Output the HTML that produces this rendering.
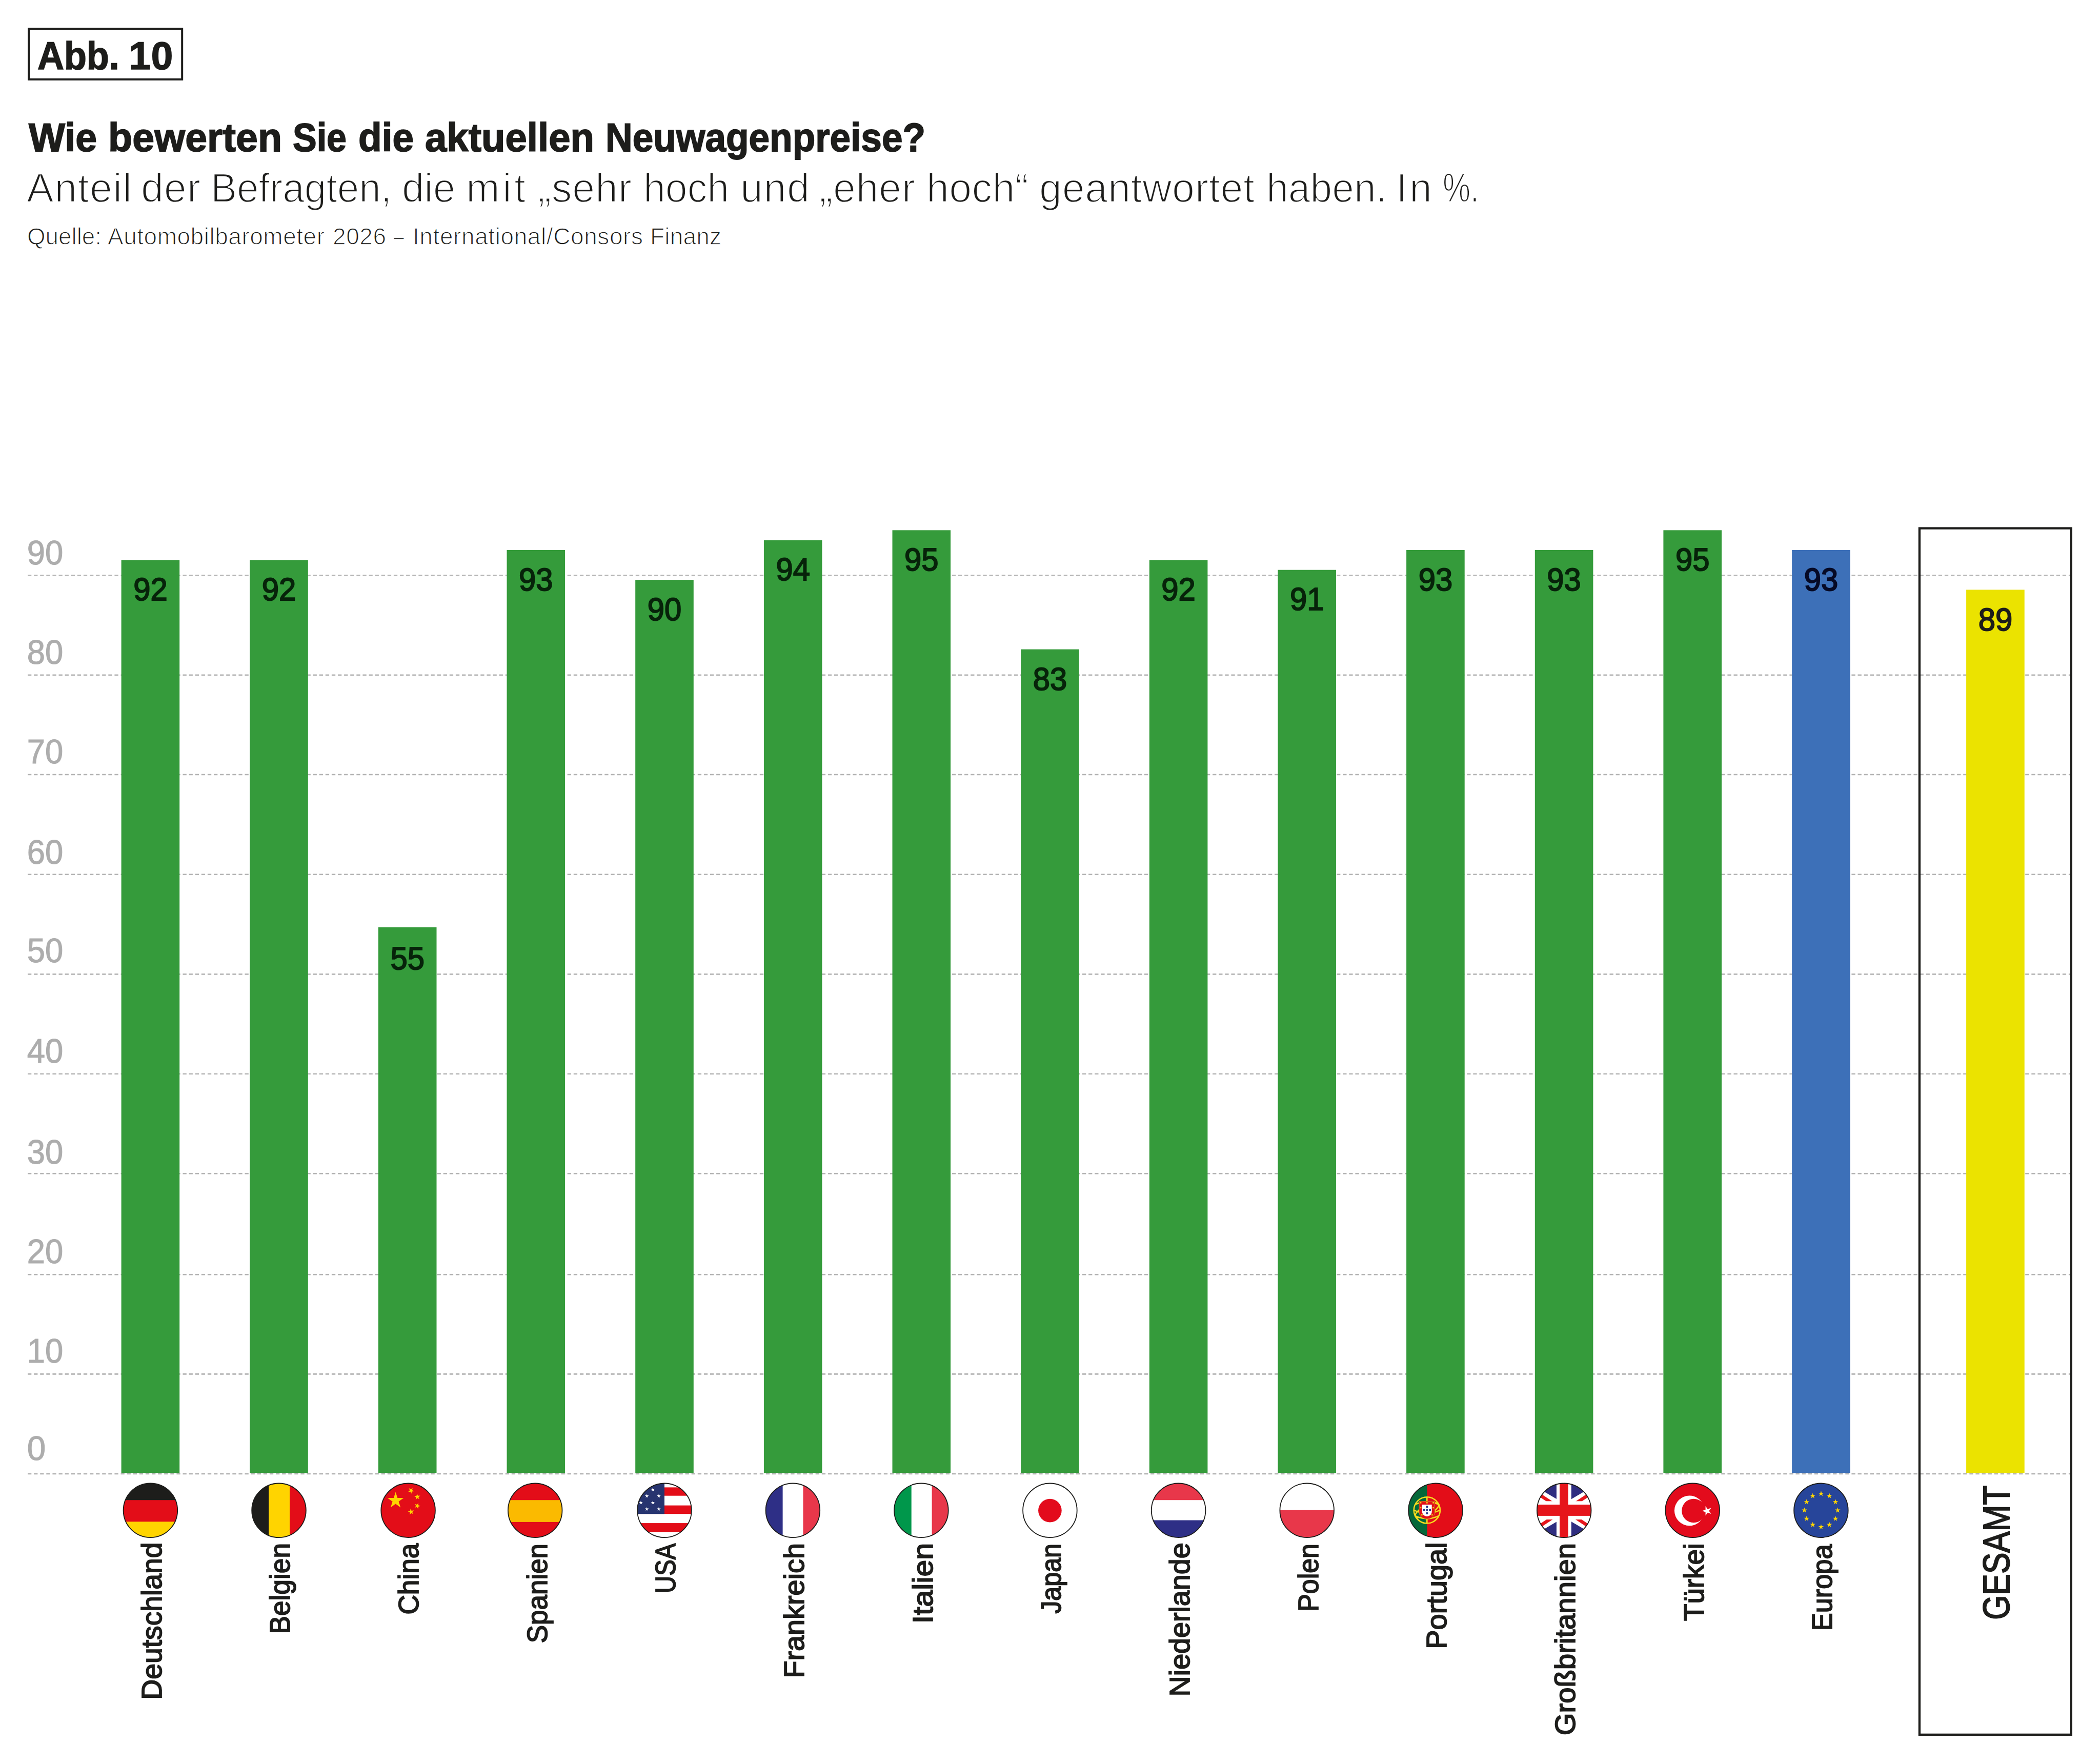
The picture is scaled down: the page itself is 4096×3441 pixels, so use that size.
<!DOCTYPE html>
<html lang="de"><head><meta charset="utf-8"><title>Abb. 10 – Neuwagenpreise</title>
<style>html,body{margin:0;padding:0;background:#fff}svg{display:block}text{font-family:"Liberation Sans",sans-serif}</style>
</head><body>
<svg width="4096" height="3441" viewBox="0 0 4096 3441" role="img" aria-label="Balkendiagramm: Bewertung der aktuellen Neuwagenpreise nach Land">
<defs><clipPath id="fc"><circle cx="0" cy="0" r="52.8"/></clipPath></defs>
<rect width="4096" height="3441" fill="#fff"/>
<g fill="#1d1d1b">
<rect x="56.1" y="56.1" width="299.1" height="98.8" fill="none" stroke="#1d1d1b" stroke-width="4"/>
<text y="135.0" font-size="76.5" font-weight="bold" stroke="#1d1d1b" stroke-width="1.6"><tspan x="73.1" textLength="159.6" lengthAdjust="spacingAndGlyphs">Abb.</tspan> <tspan x="251.4" textLength="86.0" lengthAdjust="spacing">10</tspan></text>
<text y="295" font-size="77" font-weight="bold" stroke="#1d1d1b" stroke-width="1.8"><tspan x="56.0" textLength="133.0" lengthAdjust="spacingAndGlyphs">Wie</tspan> <tspan x="211.0" textLength="339.0" lengthAdjust="spacing">bewerten</tspan> <tspan x="571.0" textLength="105.0" lengthAdjust="spacingAndGlyphs">Sie</tspan> <tspan x="699.0" textLength="108.0" lengthAdjust="spacingAndGlyphs">die</tspan> <tspan x="829.0" textLength="330.0" lengthAdjust="spacingAndGlyphs">aktuellen</tspan> <tspan x="1181.0" textLength="624.0" lengthAdjust="spacingAndGlyphs">Neuwagenpreise?</tspan></text>
<text y="393.6" font-size="79" stroke="#fff" stroke-width="2.3"><tspan x="52.0" textLength="205.0" lengthAdjust="spacing">Anteil</tspan> <tspan x="275.0" textLength="116.0" lengthAdjust="spacing">der</tspan> <tspan x="411.0" textLength="353.0" lengthAdjust="spacingAndGlyphs">Befragten,</tspan> <tspan x="784.0" textLength="104.0" lengthAdjust="spacingAndGlyphs">die</tspan> <tspan x="909.0" textLength="116.0" lengthAdjust="spacing">mit</tspan> <tspan x="1049.0" textLength="183.0" lengthAdjust="spacing">„sehr</tspan> <tspan x="1255.0" textLength="167.0" lengthAdjust="spacingAndGlyphs">hoch</tspan> <tspan x="1444.0" textLength="135.0" lengthAdjust="spacing">und</tspan> <tspan x="1598.0" textLength="187.0" lengthAdjust="spacing">„eher</tspan> <tspan x="1807.0" textLength="199.0" lengthAdjust="spacing">hoch“</tspan> <tspan x="2027.0" textLength="420.0" lengthAdjust="spacing">geantwortet</tspan> <tspan x="2470.0" textLength="235.0" lengthAdjust="spacingAndGlyphs">haben.</tspan> <tspan x="2723.0" textLength="70.0" lengthAdjust="spacing">In</tspan> <tspan x="2814.0" textLength="71.0" lengthAdjust="spacingAndGlyphs">%.</tspan></text>
<text y="477.2" font-size="46" stroke="#fff" stroke-width="1.3"><tspan x="53.0" textLength="145.0" lengthAdjust="spacingAndGlyphs">Quelle:</tspan> <tspan x="210.0" textLength="423.0" lengthAdjust="spacing">Automobilbarometer</tspan> <tspan x="649.0" textLength="104.0" lengthAdjust="spacing">2026</tspan> <tspan x="768.0" textLength="20.0" lengthAdjust="spacingAndGlyphs">–</tspan> <tspan x="805.0" textLength="449.0" lengthAdjust="spacing">International/Consors</tspan> <tspan x="1268.0" textLength="139.0" lengthAdjust="spacing">Finanz</tspan></text>
</g>
<g stroke="#b3b3b3" stroke-width="2.6" stroke-dasharray="7.3 4.8" fill="none">
<line x1="54" y1="2874.9" x2="4038" y2="2874.9"/>
<line x1="54" y1="2680.4" x2="4038" y2="2680.4"/>
<line x1="54" y1="2486.2" x2="4038" y2="2486.2"/>
<line x1="54" y1="2289.2" x2="4038" y2="2289.2"/>
<line x1="54" y1="2094.7" x2="4038" y2="2094.7"/>
<line x1="54" y1="1900.4" x2="4038" y2="1900.4"/>
<line x1="54" y1="1705.8" x2="4038" y2="1705.8"/>
<line x1="54" y1="1511.0" x2="4038" y2="1511.0"/>
<line x1="54" y1="1316.8" x2="4038" y2="1316.8"/>
<line x1="54" y1="1122.3" x2="4038" y2="1122.3"/>
</g>
<g fill="#adadad" stroke="#adadad" stroke-width="1.1" font-size="66.6">
<text x="52.8" y="2848.4" textLength="36.5" lengthAdjust="spacingAndGlyphs">0</text>
<text x="52.8" y="2657.5" textLength="70.5" lengthAdjust="spacingAndGlyphs">10</text>
<text x="52.8" y="2464.3" textLength="70.5" lengthAdjust="spacingAndGlyphs">20</text>
<text x="52.8" y="2269.7" textLength="70.5" lengthAdjust="spacingAndGlyphs">30</text>
<text x="52.8" y="2072.8" textLength="70.5" lengthAdjust="spacingAndGlyphs">40</text>
<text x="52.8" y="1876.7" textLength="70.5" lengthAdjust="spacingAndGlyphs">50</text>
<text x="52.8" y="1684.5" textLength="70.5" lengthAdjust="spacingAndGlyphs">60</text>
<text x="52.8" y="1489.2" textLength="70.5" lengthAdjust="spacingAndGlyphs">70</text>
<text x="52.8" y="1295.2" textLength="70.5" lengthAdjust="spacingAndGlyphs">80</text>
<text x="52.8" y="1100.7" textLength="70.5" lengthAdjust="spacingAndGlyphs">90</text>
</g>
<rect x="236.6" y="1092.4" width="113.6" height="1781.0" fill="#359b3b"/>
<text x="293.4" y="1171.0" font-size="63" text-anchor="middle" fill="#07230a" stroke="#07230a" stroke-width="2" textLength="66.5" lengthAdjust="spacingAndGlyphs">92</text>
<rect x="487.2" y="1092.4" width="113.6" height="1781.0" fill="#359b3b"/>
<text x="544.0" y="1171.0" font-size="63" text-anchor="middle" fill="#07230a" stroke="#07230a" stroke-width="2" textLength="66.5" lengthAdjust="spacingAndGlyphs">92</text>
<rect x="737.9" y="1808.7" width="113.6" height="1064.7" fill="#359b3b"/>
<text x="794.7" y="1891.0" font-size="63" text-anchor="middle" fill="#07230a" stroke="#07230a" stroke-width="2" textLength="66.5" lengthAdjust="spacingAndGlyphs">55</text>
<rect x="988.5" y="1073.0" width="113.6" height="1800.4" fill="#359b3b"/>
<text x="1045.3" y="1151.5" font-size="63" text-anchor="middle" fill="#07230a" stroke="#07230a" stroke-width="2" textLength="66.5" lengthAdjust="spacingAndGlyphs">93</text>
<rect x="1239.2" y="1131.1" width="113.6" height="1742.3" fill="#359b3b"/>
<text x="1296.0" y="1209.9" font-size="63" text-anchor="middle" fill="#07230a" stroke="#07230a" stroke-width="2" textLength="66.5" lengthAdjust="spacingAndGlyphs">90</text>
<rect x="1489.9" y="1053.7" width="113.6" height="1819.7" fill="#359b3b"/>
<text x="1546.7" y="1132.1" font-size="63" text-anchor="middle" fill="#07230a" stroke="#07230a" stroke-width="2" textLength="66.5" lengthAdjust="spacingAndGlyphs">94</text>
<rect x="1740.5" y="1034.3" width="113.6" height="1839.1" fill="#359b3b"/>
<text x="1797.3" y="1112.6" font-size="63" text-anchor="middle" fill="#07230a" stroke="#07230a" stroke-width="2" textLength="66.5" lengthAdjust="spacingAndGlyphs">95</text>
<rect x="1991.1" y="1266.6" width="113.6" height="1606.8" fill="#359b3b"/>
<text x="2047.9" y="1346.1" font-size="63" text-anchor="middle" fill="#07230a" stroke="#07230a" stroke-width="2" textLength="66.5" lengthAdjust="spacingAndGlyphs">83</text>
<rect x="2241.8" y="1092.4" width="113.6" height="1781.0" fill="#359b3b"/>
<text x="2298.6" y="1171.0" font-size="63" text-anchor="middle" fill="#07230a" stroke="#07230a" stroke-width="2" textLength="66.5" lengthAdjust="spacingAndGlyphs">92</text>
<rect x="2492.4" y="1111.7" width="113.6" height="1761.7" fill="#359b3b"/>
<text x="2549.2" y="1190.4" font-size="63" text-anchor="middle" fill="#07230a" stroke="#07230a" stroke-width="2" textLength="66.5" lengthAdjust="spacingAndGlyphs">91</text>
<rect x="2743.1" y="1073.0" width="113.6" height="1800.4" fill="#359b3b"/>
<text x="2799.9" y="1151.5" font-size="63" text-anchor="middle" fill="#07230a" stroke="#07230a" stroke-width="2" textLength="66.5" lengthAdjust="spacingAndGlyphs">93</text>
<rect x="2993.8" y="1073.0" width="113.6" height="1800.4" fill="#359b3b"/>
<text x="3050.6" y="1151.5" font-size="63" text-anchor="middle" fill="#07230a" stroke="#07230a" stroke-width="2" textLength="66.5" lengthAdjust="spacingAndGlyphs">93</text>
<rect x="3244.4" y="1034.3" width="113.6" height="1839.1" fill="#359b3b"/>
<text x="3301.2" y="1112.6" font-size="63" text-anchor="middle" fill="#07230a" stroke="#07230a" stroke-width="2" textLength="66.5" lengthAdjust="spacingAndGlyphs">95</text>
<rect x="3495.1" y="1073.0" width="113.6" height="1800.4" fill="#3d70b8"/>
<text x="3551.9" y="1151.5" font-size="63" text-anchor="middle" fill="#060a26" stroke="#060a26" stroke-width="2" textLength="66.5" lengthAdjust="spacingAndGlyphs">93</text>
<rect x="3835.1" y="1150.4" width="113.6" height="1723.0" fill="#ebe300"/>
<text x="3891.9" y="1230.2" font-size="63" text-anchor="middle" fill="#1d1d1b" stroke="#1d1d1b" stroke-width="2" textLength="66.5" lengthAdjust="spacingAndGlyphs">89</text>
<g transform="translate(293.4,2946.3)">
<g clip-path="url(#fc)"><rect x="-60.0" y="-60.0" width="120.0" height="120.0" fill="#e30d18"/><rect x="-60.0" y="-60.0" width="120.0" height="39.9" fill="#1d1d1b"/><rect x="-60.0" y="22.0" width="120.0" height="60.0" fill="#ffd400"/></g>
<circle r="52.8" fill="none" stroke="#1d1d1b" stroke-width="1.8"/>
</g>
<text transform="translate(314.8,3315.8) rotate(-90)" font-size="55" fill="#1d1d1b" stroke="#1d1d1b" stroke-width="1.8" textLength="307.4" lengthAdjust="spacingAndGlyphs">Deutschland</text>
<g transform="translate(544.0,2946.3)">
<g clip-path="url(#fc)"><rect x="-60.0" y="-60.0" width="120.0" height="120.0" fill="#ffd400"/><rect x="-60.0" y="-60.0" width="40.2" height="120.0" fill="#1d1d1b"/><rect x="21.1" y="-60.0" width="60.0" height="120.0" fill="#e30d18"/></g>
<circle r="52.8" fill="none" stroke="#1d1d1b" stroke-width="1.8"/>
</g>
<text transform="translate(565.4,3187.6) rotate(-90)" font-size="55" fill="#1d1d1b" stroke="#1d1d1b" stroke-width="1.8" textLength="177.6" lengthAdjust="spacingAndGlyphs">Belgien</text>
<g transform="translate(796.1,2946.3)">
<g clip-path="url(#fc)"><rect x="-60.0" y="-60.0" width="120.0" height="120.0" fill="#e30d18"/><polygon points="-24.50,-35.70 -20.80,-24.30 -8.81,-24.30 -18.51,-17.25 -14.80,-5.85 -24.50,-12.90 -34.20,-5.85 -30.49,-17.25 -40.19,-24.30 -28.20,-24.30" fill="#ffd400"/><polygon points="8.70,-43.97 7.76,-39.56 11.66,-37.31 7.18,-36.84 6.25,-32.43 4.42,-36.55 -0.06,-36.08 3.28,-39.09 1.45,-43.21 5.35,-40.96" fill="#ffd400"/><polygon points="17.26,-32.58 19.02,-28.43 23.51,-28.82 20.11,-25.87 21.87,-21.72 18.01,-24.04 14.61,-21.09 15.62,-25.47 11.76,-27.79 16.25,-28.19" fill="#ffd400"/><polygon points="19.92,-14.63 19.76,-10.12 24.00,-8.58 19.67,-7.34 19.51,-2.84 16.99,-6.57 12.66,-5.33 15.43,-8.88 12.91,-12.62 17.15,-11.08" fill="#ffd400"/><polygon points="4.52,-3.31 6.64,0.67 11.07,-0.11 7.95,3.13 10.06,7.11 6.01,5.13 2.88,8.37 3.51,3.91 -0.54,1.94 3.90,1.15" fill="#ffd400"/></g>
<circle r="52.8" fill="none" stroke="#1d1d1b" stroke-width="1.8"/>
</g>
<text transform="translate(816.1,3149.6) rotate(-90)" font-size="55" fill="#1d1d1b" stroke="#1d1d1b" stroke-width="1.8" textLength="139.0" lengthAdjust="spacingAndGlyphs">China</text>
<g transform="translate(1043.7,2946.3)">
<g clip-path="url(#fc)"><rect x="-60.0" y="-60.0" width="120.0" height="120.0" fill="#e30d18"/><rect x="-60.0" y="-20.1" width="120.0" height="42.7" fill="#fbba00"/></g>
<circle r="52.8" fill="none" stroke="#1d1d1b" stroke-width="1.8"/>
</g>
<text transform="translate(1066.8,3205.2) rotate(-90)" font-size="55" fill="#1d1d1b" stroke="#1d1d1b" stroke-width="1.8" textLength="194.2" lengthAdjust="spacingAndGlyphs">Spanien</text>
<g transform="translate(1296.0,2946.3)">
<g clip-path="url(#fc)"><rect x="-60.0" y="-60.0" width="120.0" height="120.0" fill="#fff"/><rect x="-60.0" y="-44.9" width="120.0" height="16.3" fill="#e30d18"/><rect x="-60.0" y="-9.7" width="120.0" height="16.6" fill="#e30d18"/><rect x="-60.0" y="24.8" width="120.0" height="17.3" fill="#e30d18"/><rect x="-60.0" y="-60.0" width="60.0" height="66.9" fill="#27346f"/><polygon points="-22.70,-44.50 -21.80,-41.74 -18.90,-41.74 -21.25,-40.03 -20.35,-37.26 -22.70,-38.97 -25.05,-37.26 -24.15,-40.03 -26.50,-41.74 -23.60,-41.74" fill="#fff"/><polygon points="-34.30,-32.00 -33.40,-29.24 -30.50,-29.24 -32.85,-27.53 -31.95,-24.76 -34.30,-26.47 -36.65,-24.76 -35.75,-27.53 -38.10,-29.24 -35.20,-29.24" fill="#fff"/><polygon points="-11.00,-32.00 -10.10,-29.24 -7.20,-29.24 -9.55,-27.53 -8.65,-24.76 -11.00,-26.47 -13.35,-24.76 -12.45,-27.53 -14.80,-29.24 -11.90,-29.24" fill="#fff"/><polygon points="-46.00,-19.10 -45.10,-16.34 -42.20,-16.34 -44.55,-14.63 -43.65,-11.86 -46.00,-13.57 -48.35,-11.86 -47.45,-14.63 -49.80,-16.34 -46.90,-16.34" fill="#fff"/><polygon points="-22.70,-19.10 -21.80,-16.34 -18.90,-16.34 -21.25,-14.63 -20.35,-11.86 -22.70,-13.57 -25.05,-11.86 -24.15,-14.63 -26.50,-16.34 -23.60,-16.34" fill="#fff"/><polygon points="-34.30,-6.50 -33.40,-3.74 -30.50,-3.74 -32.85,-2.03 -31.95,0.74 -34.30,-0.97 -36.65,0.74 -35.75,-2.03 -38.10,-3.74 -35.20,-3.74" fill="#fff"/><polygon points="-11.00,-6.50 -10.10,-3.74 -7.20,-3.74 -9.55,-2.03 -8.65,0.74 -11.00,-0.97 -13.35,0.74 -12.45,-2.03 -14.80,-3.74 -11.90,-3.74" fill="#fff"/></g>
<circle r="52.8" fill="none" stroke="#1d1d1b" stroke-width="1.8"/>
</g>
<text transform="translate(1317.4,3108.0) rotate(-90)" font-size="55" fill="#1d1d1b" stroke="#1d1d1b" stroke-width="1.8" textLength="97.2" lengthAdjust="spacingAndGlyphs">USA</text>
<g transform="translate(1546.4,2946.3)">
<g clip-path="url(#fc)"><rect x="-60.0" y="-60.0" width="120.0" height="120.0" fill="#fff"/><rect x="-60.0" y="-60.0" width="40.2" height="120.0" fill="#2e2f86"/><rect x="20.1" y="-60.0" width="60.0" height="120.0" fill="#e8374a"/></g>
<circle r="52.8" fill="none" stroke="#1d1d1b" stroke-width="1.8"/>
</g>
<text transform="translate(1568.1,3273.6) rotate(-90)" font-size="55" fill="#1d1d1b" stroke="#1d1d1b" stroke-width="1.8" textLength="263.6" lengthAdjust="spacingAndGlyphs">Frankreich</text>
<g transform="translate(1796.9,2946.3)">
<g clip-path="url(#fc)"><rect x="-60.0" y="-60.0" width="120.0" height="120.0" fill="#fff"/><rect x="-60.0" y="-60.0" width="40.8" height="120.0" fill="#00974b"/><rect x="20.7" y="-60.0" width="60.0" height="120.0" fill="#e8374a"/></g>
<circle r="52.8" fill="none" stroke="#1d1d1b" stroke-width="1.8"/>
</g>
<text transform="translate(1818.7,3167.2) rotate(-90)" font-size="55" fill="#1d1d1b" stroke="#1d1d1b" stroke-width="1.8" textLength="157.2" lengthAdjust="spacingAndGlyphs">Italien</text>
<g transform="translate(2047.9,2946.3)">
<g clip-path="url(#fc)"><rect x="-60.0" y="-60.0" width="120.0" height="120.0" fill="#fff"/><circle cx="0" cy="0.3" r="22.8" fill="#e30b1c"/></g>
<circle r="52.8" fill="none" stroke="#1d1d1b" stroke-width="1.8"/>
</g>
<text transform="translate(2069.3,3147.8) rotate(-90)" font-size="55" fill="#1d1d1b" stroke="#1d1d1b" stroke-width="1.8" textLength="136.8" lengthAdjust="spacingAndGlyphs">Japan</text>
<g transform="translate(2298.6,2946.3)">
<g clip-path="url(#fc)"><rect x="-60.0" y="-60.0" width="120.0" height="120.0" fill="#fff"/><rect x="-60.0" y="-60.0" width="120.0" height="39.9" fill="#e8374a"/><rect x="-60.0" y="19.2" width="120.0" height="60.0" fill="#2e2f86"/></g>
<circle r="52.8" fill="none" stroke="#1d1d1b" stroke-width="1.8"/>
</g>
<text transform="translate(2320.0,3309.4) rotate(-90)" font-size="55" fill="#1d1d1b" stroke="#1d1d1b" stroke-width="1.8" textLength="300.0" lengthAdjust="spacingAndGlyphs">Niederlande</text>
<g transform="translate(2549.2,2946.3)">
<g clip-path="url(#fc)"><rect x="-60.0" y="-60.0" width="120.0" height="120.0" fill="#fff"/><rect x="-60.0" y="-0.6" width="120.0" height="61.0" fill="#e8374a"/></g>
<circle r="52.8" fill="none" stroke="#1d1d1b" stroke-width="1.8"/>
</g>
<text transform="translate(2570.7,3143.8) rotate(-90)" font-size="55" fill="#1d1d1b" stroke="#1d1d1b" stroke-width="1.8" textLength="132.8" lengthAdjust="spacingAndGlyphs">Polen</text>
<g transform="translate(2800.0,2946.3)">
<g clip-path="url(#fc)"><rect x="-60.0" y="-60.0" width="120.0" height="120.0" fill="#e30d18"/><rect x="-60.0" y="-60.0" width="43.5" height="120.0" fill="#05683a"/><g transform="translate(-16.7,-0.4)" fill="none" stroke="#f5dc1e" stroke-width="2.6"><circle r="25.6"/><line x1="0" y1="-25.6" x2="0" y2="25.6"/><ellipse rx="25.6" ry="9" transform="rotate(-28)"/><path d="M-23,-11 Q0,-22 23,-11"/><path d="M-23,11 Q0,22 23,11"/><path d="M-25.6,0 Q0,12 25.6,0"/></g><path transform="translate(-16.7,-0.4)" d="M-15.3,-17.5 H15.3 V4 C15.3,13 7,17 0,17 C-7,17 -15.3,13 -15.3,4 Z" fill="#e30d18" stroke="#c9a227" stroke-width="0.8"/><path transform="translate(-16.7,-0.4)" d="M-9.4,-11 H9.4 V2.5 C9.4,8.5 4.5,12 0,12 C-4.5,12 -9.4,8.5 -9.4,2.5 Z" fill="#fff"/><circle cx="-16.7" cy="-7.0" r="2.2" fill="#2b3a8c"/><circle cx="-22.5" cy="-0.8" r="2.2" fill="#2b3a8c"/><circle cx="-16.7" cy="-0.8" r="2.2" fill="#2b3a8c"/><circle cx="-10.9" cy="-0.8" r="2.2" fill="#2b3a8c"/><circle cx="-16.7" cy="5.6" r="2.2" fill="#2b3a8c"/><rect x="-30.4" y="-16.4" width="2.8" height="2.8" fill="#e9c21a"/><rect x="-18.1" y="-16.4" width="2.8" height="2.8" fill="#e9c21a"/><rect x="-5.8" y="-16.4" width="2.8" height="2.8" fill="#e9c21a"/><rect x="-30.4" y="-6.8" width="2.8" height="2.8" fill="#e9c21a"/><rect x="-5.8" y="-6.8" width="2.8" height="2.8" fill="#e9c21a"/><rect x="-28.1" y="7.2" width="2.8" height="2.8" fill="#e9c21a"/><rect x="-8.1" y="7.2" width="2.8" height="2.8" fill="#e9c21a"/></g>
<circle r="52.8" fill="none" stroke="#1d1d1b" stroke-width="1.8"/>
</g>
<text transform="translate(2821.3,3216.8) rotate(-90)" font-size="55" fill="#1d1d1b" stroke="#1d1d1b" stroke-width="1.8" textLength="208.4" lengthAdjust="spacingAndGlyphs">Portugal</text>
<g transform="translate(3050.7,2946.3)">
<g clip-path="url(#fc)"><rect x="-60.0" y="-60.0" width="120.0" height="120.0" fill="#2f2d80"/><g stroke="#fff" stroke-width="23.4"><line x1="-90" y1="-53.1" x2="90" y2="53.1"/><line x1="-90" y1="53.1" x2="90" y2="-53.1"/></g><g stroke="#e6151b" stroke-width="6.4"><line x1="0" y1="1.2" x2="-90" y2="-58.2"/><line x1="0" y1="1.2" x2="90" y2="-58.2"/><line x1="0" y1="-0.8" x2="-90" y2="58.6"/><line x1="0" y1="-0.8" x2="90" y2="58.6"/></g><rect x="-14.8" y="-60.0" width="28.9" height="120.0" fill="#fff"/><rect x="-60.0" y="-18.0" width="120.0" height="35.8" fill="#fff"/><rect x="-8.7" y="-60.0" width="16.7" height="120.0" fill="#e6151b"/><rect x="-60.0" y="-11.2" width="120.0" height="21.8" fill="#e6151b"/></g>
<circle r="52.8" fill="none" stroke="#1d1d1b" stroke-width="1.8"/>
</g>
<text transform="translate(3072.0,3385.2) rotate(-90)" font-size="55" fill="#1d1d1b" stroke="#1d1d1b" stroke-width="1.8" textLength="375.2" lengthAdjust="spacingAndGlyphs">Großbritannien</text>
<g transform="translate(3301.2,2946.3)">
<g clip-path="url(#fc)"><rect x="-60.0" y="-60.0" width="120.0" height="120.0" fill="#e30b1c"/><circle cx="-5.9" cy="0.5" r="29.4" fill="#fff"/><circle cx="2.3" cy="0.7" r="23.3" fill="#e30b1c"/><polygon points="18.60,1.00 25.37,-1.20 25.37,-8.32 29.56,-2.56 36.33,-4.76 32.14,1.00 36.33,6.76 29.56,4.56 25.37,10.32 25.37,3.20" fill="#fff"/></g>
<circle r="52.8" fill="none" stroke="#1d1d1b" stroke-width="1.8"/>
</g>
<text transform="translate(3322.6,3162.0) rotate(-90)" font-size="55" fill="#1d1d1b" stroke="#1d1d1b" stroke-width="1.8" textLength="152.0" lengthAdjust="spacingAndGlyphs">Türkei</text>
<g transform="translate(3551.9,2946.3)">
<g clip-path="url(#fc)"><rect x="-60.0" y="-60.0" width="120.0" height="120.0" fill="#27459a"/><polygon points="0.00,-38.20 1.26,-34.33 5.33,-34.33 2.03,-31.94 3.29,-28.07 0.00,-30.46 -3.29,-28.07 -2.03,-31.94 -5.33,-34.33 -1.26,-34.33" fill="#ffd400"/><polygon points="16.25,-33.85 17.51,-29.98 21.58,-29.98 18.28,-27.58 19.54,-23.72 16.25,-26.11 12.96,-23.72 14.22,-27.58 10.92,-29.98 14.99,-29.98" fill="#ffd400"/><polygon points="28.15,-21.95 29.40,-18.08 33.47,-18.08 30.18,-15.69 31.44,-11.82 28.15,-14.21 24.85,-11.82 26.11,-15.69 22.82,-18.08 26.89,-18.08" fill="#ffd400"/><polygon points="32.50,-5.70 33.76,-1.83 37.83,-1.83 34.53,0.56 35.79,4.43 32.50,2.04 29.21,4.43 30.47,0.56 27.17,-1.83 31.24,-1.83" fill="#ffd400"/><polygon points="28.15,10.55 29.40,14.42 33.47,14.42 30.18,16.81 31.44,20.68 28.15,18.29 24.85,20.68 26.11,16.81 22.82,14.42 26.89,14.42" fill="#ffd400"/><polygon points="16.25,22.45 17.51,26.32 21.58,26.32 18.28,28.71 19.54,32.58 16.25,30.19 12.96,32.58 14.22,28.71 10.92,26.32 14.99,26.32" fill="#ffd400"/><polygon points="0.00,26.80 1.26,30.67 5.33,30.67 2.03,33.06 3.29,36.93 0.00,34.54 -3.29,36.93 -2.03,33.06 -5.33,30.67 -1.26,30.67" fill="#ffd400"/><polygon points="-16.25,22.45 -14.99,26.32 -10.92,26.32 -14.22,28.71 -12.96,32.58 -16.25,30.19 -19.54,32.58 -18.28,28.71 -21.58,26.32 -17.51,26.32" fill="#ffd400"/><polygon points="-28.15,10.55 -26.89,14.42 -22.82,14.42 -26.11,16.81 -24.85,20.68 -28.15,18.29 -31.44,20.68 -30.18,16.81 -33.47,14.42 -29.40,14.42" fill="#ffd400"/><polygon points="-32.50,-5.70 -31.24,-1.83 -27.17,-1.83 -30.47,0.56 -29.21,4.43 -32.50,2.04 -35.79,4.43 -34.53,0.56 -37.83,-1.83 -33.76,-1.83" fill="#ffd400"/><polygon points="-28.15,-21.95 -26.89,-18.08 -22.82,-18.08 -26.11,-15.69 -24.85,-11.82 -28.15,-14.21 -31.44,-11.82 -30.18,-15.69 -33.47,-18.08 -29.40,-18.08" fill="#ffd400"/><polygon points="-16.25,-33.85 -14.99,-29.98 -10.92,-29.98 -14.22,-27.58 -12.96,-23.72 -16.25,-26.11 -19.54,-23.72 -18.28,-27.58 -21.58,-29.98 -17.51,-29.98" fill="#ffd400"/></g>
<circle r="52.8" fill="none" stroke="#1d1d1b" stroke-width="1.8"/>
</g>
<text transform="translate(3573.3,3181.2) rotate(-90)" font-size="55" fill="#1d1d1b" stroke="#1d1d1b" stroke-width="1.8" textLength="168.8" lengthAdjust="spacingAndGlyphs">Europa</text>
<rect x="3743.9" y="1030.5" width="295.9" height="2353.3" fill="none" stroke="#1d1d1b" stroke-width="4.3"/>
<text transform="translate(3918.6,3159.7) rotate(-90)" font-size="72.6" fill="#1d1d1b" stroke="#1d1d1b" stroke-width="2.0" textLength="262" lengthAdjust="spacingAndGlyphs">GESAMT</text>
</svg>
</body></html>
